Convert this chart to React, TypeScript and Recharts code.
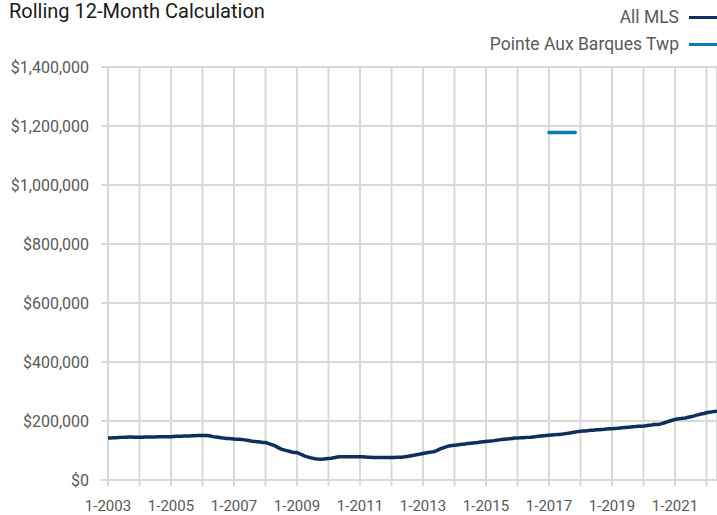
import React from "react";
import { LineChart, Line, XAxis, YAxis, CartesianGrid } from "recharts";

// monthly values, 1-2003 .. 5-2022
const allMls = [
  // 2003
  142000, 142500, 143000, 143500, 144000, 144500, 145000, 145000, 145500, 145500, 145000, 145000,
  // 2004
  145000, 145000, 145500, 145500, 146000, 146000, 146000, 146500, 146500, 147000, 147000, 147000,
  // 2005
  147000, 147500, 148000, 148000, 148500, 149000, 149000, 149500, 150000, 150000, 150500, 150500,
  // 2006
  150600, 151000, 150500, 149000, 147000, 146000, 145000, 143500, 142000, 141000, 140500, 140000,
  // 2007
  139000, 138500, 138000, 137000, 136000, 134500, 133000, 131500, 130500, 129500, 128500, 127500,
  // 2008
  127000, 124000, 121000, 118000, 114000, 109000, 104500, 102000, 99500, 97500, 95000, 93500,
  // 2009
  93000, 89000, 85000, 81000, 78500, 76000, 73500, 72000, 71000, 70500, 71000, 72000,
  // 2010
  73000, 74000, 75500, 77000, 78500, 79000, 79000, 79000, 78500, 78500, 78500, 78500,
  // 2011
  78600, 78500, 78000, 77500, 77000, 76500, 76000, 76500, 76500, 76500, 76500, 76500,
  // 2012
  76500, 76500, 77000, 77000, 77500, 78500, 80000, 81500, 83000, 84500, 86500, 88000,
  // 2013
  90000, 91500, 93000, 94500, 96000, 99000, 103000, 107000, 110000, 113000, 115500, 117000,
  // 2014
  118000, 119000, 120000, 121000, 122000, 123500, 124500, 125500, 126500, 127500, 128500, 129500,
  // 2015
  130500, 131500, 132500, 133500, 135000, 136000, 137000, 138000, 139000, 140000, 141000, 142000,
  // 2016
  142700, 143000, 143500, 144000, 144500, 145000, 146000, 147000, 148000, 149000, 150000, 151000,
  // 2017
  151700, 152500, 153000, 154000, 154500, 155500, 156500, 158000, 159500, 161000, 162500, 164000,
  // 2018
  165000, 166000, 166500, 167500, 168500, 169000, 170000, 170500, 171500, 172000, 173000, 173500,
  // 2019
  174000, 174500, 175000, 176000, 177000, 178000, 178700, 179500, 180500, 181000, 182000, 182500,
  // 2020
  183000, 184000, 185500, 186500, 188000, 188000, 189000, 191000, 194000, 197000, 200000, 202500,
  // 2021
  205000, 206500, 208000, 209500, 210500, 212500, 214500, 216500, 219000, 221500, 223500, 225500,
  // 2022
  228000, 229500, 231000, 232500, 233500,
];

const pointeMonths = [
  "1-2017", "2-2017", "3-2017", "4-2017", "5-2017", "6-2017",
  "7-2017", "8-2017", "9-2017", "10-2017", "11-2017",
];
const pointeValues = [
  1178000, 1178000, 1178000, 1178000, 1178000, 1178000,
  1178000, 1178000, 1178000, 1178000, 1178000,
];

const yTicks = [0, 200000, 400000, 600000, 800000, 1000000, 1200000, 1400000];
const firstYear = 2003;

// month labels "M-YYYY"
const months = allMls.map((_, i) => `${(i % 12) + 1}-${firstYear + Math.floor(i / 12)}`);
const xTicks = months.map((_, i) => i).filter((i) => i % 12 === 0);

const data = months.map((m, i) => {
  const p = pointeMonths.indexOf(m);
  return { i, month: m, allMls: allMls[i], pointe: p >= 0 ? pointeValues[p] : null };
});

const GRID = "#d9d9d9";
const TEXT = "#595959";
const FONT = "Roboto, sans-serif";

const fmtMoney = (v: number) => `$${v.toLocaleString("en-US")}`;
const fmtMonth = (i: number) => (Math.round(i / 12) % 2 === 0 ? months[i] : "");

export default function App() {
  return (
    <div style={{ position: "relative", width: 717, height: 515, background: "#fff", overflow: "hidden", fontFamily: FONT }}>
      <style>{`body{margin:0}`}</style>
      <div style={{ position: "absolute", left: 9, top: 0, fontSize: 20, lineHeight: "23px", color: "#1a1a1a" }}>
        Rolling 12-Month Calculation
      </div>

      {/* legend */}
      <div style={{ position: "absolute", right: 0, top: 4, color: TEXT, fontSize: 17.5, lineHeight: "27px", textAlign: "right" }}>
        <div style={{ display: "flex", alignItems: "center", justifyContent: "flex-end" }}>
          <span>All MLS</span>
          <span style={{ display: "inline-block", width: 28, height: 3, background: "#0e2f5e", marginLeft: 10 }} />
        </div>
        <div style={{ display: "flex", alignItems: "center", justifyContent: "flex-end" }}>
          <span>Pointe Aux Barques Twp</span>
          <span style={{ display: "inline-block", width: 28, height: 3, background: "#0b7bb4", marginLeft: 10 }} />
        </div>
      </div>

      <div style={{ position: "absolute", left: 0, top: 0 }}>
        <LineChart width={717} height={515} data={data} margin={{ top: 67, right: 0, bottom: 0, left: 0 }}>
          <CartesianGrid stroke={GRID} strokeWidth={2} />
          <XAxis
            dataKey="i"
            type="number"
            domain={[0, allMls.length - 1]}
            ticks={xTicks}
            interval={0}
            tickFormatter={fmtMonth}
            axisLine={false}
            tickLine={{ stroke: GRID, strokeWidth: 2 }}
            tickSize={6}
            tickMargin={14}
            height={35}
            tick={{ fill: TEXT, fontSize: 15, fontFamily: FONT }}
          />
          <YAxis
            type="number"
            domain={[0, 1400000]}
            ticks={yTicks}
            tickFormatter={fmtMoney}
            axisLine={false}
            tickLine={{ stroke: GRID, strokeWidth: 2 }}
            tickSize={7}
            tickMargin={12}
            width={108}
            tick={{ fill: TEXT, fontSize: 16, fontFamily: FONT }}
          />
          <Line
            dataKey="allMls"
            stroke="#0e2f5e"
            strokeWidth={3.5}
            dot={false}
            isAnimationActive={false}
          />
          <Line
            dataKey="pointe"
            stroke="#0b7bb4"
            strokeWidth={3.5}
            strokeLinecap="round"
            dot={false}
            connectNulls={false}
            isAnimationActive={false}
          />
        </LineChart>
      </div>
    </div>
  );
}
